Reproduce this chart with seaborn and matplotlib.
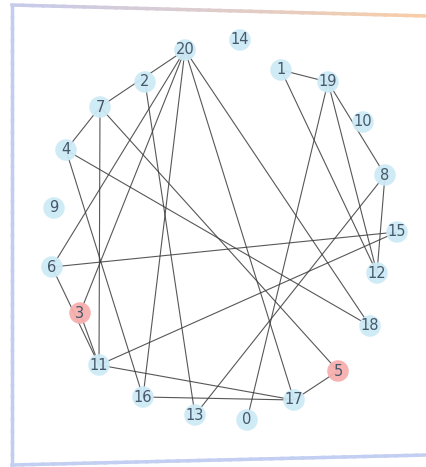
import numpy as np
import pandas as pd
import matplotlib
matplotlib.use("Agg")
import matplotlib.pyplot as plt
from matplotlib.collections import LineCollection
from matplotlib.colors import to_rgb
import seaborn as sns

# ---- data ----
node_ids = [20, 14, 2, 1, 19, 7, 10, 4, 8, 9, 15, 6, 12, 3, 18, 11, 5, 16, 17, 13, 0]
node_x = [185, 240, 145, 281, 328, 100, 363, 66, 385, 54, 397, 52, 377, 80, 370, 99, 338, 143, 294, 195, 247]
node_y = [50, 40, 82, 70, 82, 107, 122, 150, 175, 208, 232, 267, 273, 313, 326, 365, 371, 397, 400, 415, 420]
highlighted = [3, 5]
edges_src = [20, 20, 20, 20, 20, 20, 2, 7, 7, 7, 4, 4, 1, 1, 19, 19, 19, 8, 8, 15, 15, 6, 3, 11, 16, 17]
edges_dst = [7, 6, 3, 16, 17, 18, 13, 11, 5, 4, 16, 18, 19, 12, 0, 12, 8, 12, 13, 6, 11, 11, 11, 17, 17, 5]

W, H = 427, 467
sns.set_theme(style="white")
fig = plt.figure(figsize=(W / 100, H / 100), dpi=100)
fig.patch.set_facecolor("white")
ax = fig.add_axes([0, 0, 1, 1])

nodes = pd.DataFrame({"id": node_ids, "x": node_x, "y": node_y})
nodes["group"] = np.where(nodes["id"].isin(highlighted), "hi", "lo")
pos = {i: (x, y) for i, x, y in zip(node_ids, node_x, node_y)}

segs = [[pos[a], pos[b]] for a, b in zip(edges_src, edges_dst)]
ax.add_collection(LineCollection(segs, colors="#3a3a3a", linewidths=0.8, alpha=0.85, zorder=1))

sns.scatterplot(data=nodes, x="x", y="y", hue="group",
                palette={"lo": "#cdeaf6", "hi": "#f7aeae"},
                s=240, edgecolor="none", alpha=0.95, legend=False, ax=ax, zorder=2)
ax.set_xlim(0, W)
ax.set_ylim(H, 0)
ax.axis("off")

for i, x, y in zip(node_ids, node_x, node_y):
    ax.text(x, y, str(i), ha="center", va="center", fontsize=10.5,
            color="#46586a", zorder=3)

# ---- decorative frame ----
def fig_line(x0, y0, x1, y1, c0, c1, lw):
    n = 40
    xs = np.linspace(x0, x1, n + 1) / W
    ys = 1 - np.linspace(y0, y1, n + 1) / H
    s = [[(xs[k], ys[k]), (xs[k + 1], ys[k + 1])] for k in range(n)]
    a, b = np.array(to_rgb(c0)), np.array(to_rgb(c1))
    cols = [tuple(a + (b - a) * k / (n - 1)) for k in range(n)]
    lc = LineCollection(s, colors=cols, linewidths=lw, transform=fig.transFigure,
                        capstyle="projecting", antialiased=True)
    fig.add_artist(lc)

fig_line(12, 5, 12, 465, "#c3cdef", "#c3cdef", 2.5)
fig_line(12, 5, 427, 16, "#c6cbeb", "#f8cda9", 2.5)
fig_line(12, 465, 427, 455, "#c3cff2", "#c3cff2", 2.5)

fig.savefig("out.png", dpi=100, facecolor="white")
